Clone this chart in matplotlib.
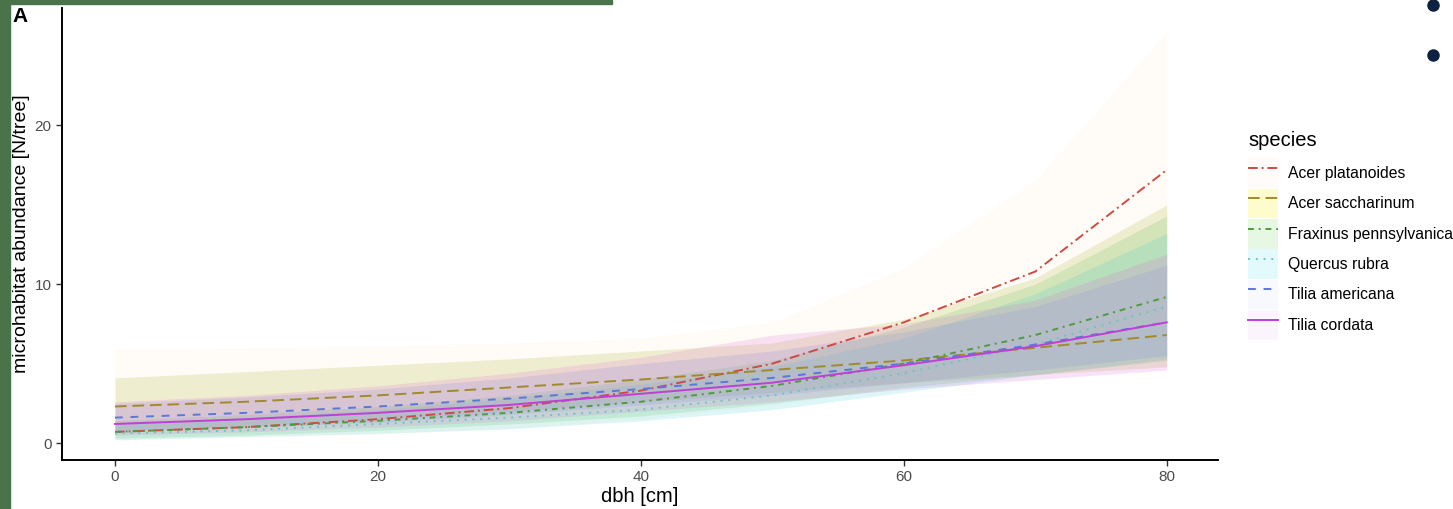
import matplotlib
matplotlib.use("Agg")
import matplotlib.pyplot as plt
from matplotlib.patches import Patch, Rectangle
from matplotlib.lines import Line2D

plt.rcParams['font.family'] = ['Liberation Sans', 'DejaVu Sans']

# dbh grid (cm)
dbh = [0, 10, 20, 30, 40, 50, 60, 70, 80]

species = ["Acer platanoides", "Acer saccharinum", "Fraxinus pennsylvanica",
           "Quercus rubra", "Tilia americana", "Tilia cordata"]

# predicted microhabitat abundance per species
fit_platanoides = [0.7, 1.0, 1.5, 2.2, 3.3, 5.0, 7.6, 10.8, 17.2]
fit_saccharinum = [2.3, 2.6, 3.0, 3.5, 4.0, 4.6, 5.2, 6.0, 6.8]
fit_fraxinus = [0.7, 1.0, 1.4, 1.9, 2.6, 3.6, 5.0, 6.8, 9.2]
fit_quercus = [0.6, 0.8, 1.2, 1.6, 2.1, 3.0, 4.4, 6.2, 8.6]
fit_americana = [1.6, 1.9, 2.3, 2.8, 3.4, 4.1, 5.0, 6.2, 7.6]
fit_cordata = [1.2, 1.5, 1.9, 2.4, 3.1, 3.8, 4.9, 6.1, 7.6]

# confidence bands
lo_platanoides = [0.2, 0.35, 0.55, 0.9, 1.5, 2.4, 3.6, 5.2, 7.5]
hi_platanoides = [5.9, 6.0, 6.1, 6.3, 6.6, 7.6, 11.0, 16.5, 25.9]
lo_saccharinum = [0.8, 1.1, 1.5, 2.0, 2.6, 3.2, 3.8, 4.3, 4.8]
hi_saccharinum = [4.1, 4.5, 4.9, 5.3, 5.8, 6.3, 7.8, 10.4, 15.0]
lo_fraxinus = [0.3, 0.5, 0.8, 1.2, 1.7, 2.5, 3.5, 4.3, 5.2]
hi_fraxinus = [1.4, 1.8, 2.3, 3.0, 4.0, 5.2, 7.3, 10.0, 14.3]
lo_quercus = [0.2, 0.4, 0.6, 0.9, 1.4, 2.1, 3.2, 4.3, 5.3]
hi_quercus = [1.2, 1.6, 2.1, 2.8, 3.7, 4.8, 6.6, 9.4, 13.2]
lo_americana = [0.8, 1.0, 1.3, 1.8, 2.4, 3.0, 3.8, 4.6, 5.5]
hi_americana = [2.5, 2.9, 3.4, 4.1, 5.0, 5.8, 7.0, 8.6, 11.2]
lo_cordata = [0.5, 0.7, 1.0, 1.4, 2.0, 2.6, 3.4, 4.0, 4.6]
hi_cordata = [2.6, 3.0, 3.6, 4.4, 5.4, 6.8, 7.5, 9.0, 11.9]

fits = [fit_platanoides, fit_saccharinum, fit_fraxinus, fit_quercus, fit_americana, fit_cordata]
lows = [lo_platanoides, lo_saccharinum, lo_fraxinus, lo_quercus, lo_americana, lo_cordata]
highs = [hi_platanoides, hi_saccharinum, hi_fraxinus, hi_quercus, hi_americana, hi_cordata]

line_colors = ["#cf4a44", "#a08a2c", "#4f9a3a", "#6cc4c4", "#5a78d8", "#c03fd6"]
fill_colors = ["#fff0d8", "#b8b848", "#50c050", "#30c8d0", "#6a8ce8", "#e070d8"]
fill_alpha = [0.2, 0.22, 0.18, 0.16, 0.18, 0.20]
key_colors = ["#fffbf8", "#fefccc", "#e6f8e4", "#e2fafb", "#f8f8ff", "#fcf4fc"]
dashes = [(0, (5, 2, 1, 2)), (0, (6, 3)), (0, (3, 2.5, 1, 2.5)), (0, (1, 3)), (0, (4, 4)), "solid"]

fig = plt.figure(figsize=(14.53, 5.09), dpi=100)
fig.patch.set_facecolor("white")

# slide background elements
fig.patches.append(Rectangle((0, 1 - 4 / 509), 612 / 1453, 4 / 509, transform=fig.transFigure,
                             color="#4b7349", zorder=0))
fig.patches.append(Rectangle((0, 0), 10 / 1453, 1, transform=fig.transFigure,
                             color="#4b7349", zorder=0))
for yb in (5, 55):
    fig.add_artist(Line2D([1433 / 1453], [1 - yb / 509], transform=fig.transFigure,
                          marker="o", markersize=8, color="#0d2240", linestyle="none"))

ax = fig.add_axes([62 / 1453, 1 - 460 / 509, (1218 - 62) / 1453, (460 - 8) / 509])

for i in range(len(species)):
    ax.fill_between(dbh, lows[i], highs[i], color=fill_colors[i], alpha=fill_alpha[i],
                    linewidth=0, zorder=1)
for i in range(len(species)):
    ax.plot(dbh, fits[i], color=line_colors[i], linestyle=dashes[i], linewidth=1.4, zorder=3)

ax.set_xlim(-4.03, 83.9)
ax.set_ylim(-1.07, 27.4)
ax.set_xticks([0, 20, 40, 60, 80])
ax.set_yticks([0, 10, 20])
for side in ("top", "right"):
    ax.spines[side].set_visible(False)
for side in ("left", "bottom"):
    ax.spines[side].set_linewidth(1.4)
    ax.spines[side].set_color("black")
ax.tick_params(axis="both", labelsize=11, labelcolor="#4d4d4d", color="#333333",
               length=4, width=1.0)
ax.set_xlabel("dbh [cm]", fontsize=14.5, labelpad=2)
ax.set_ylabel("microhabitat abundance [N/tree]", fontsize=14, labelpad=3)

fig.text(12 / 1453, 1 - 7 / 509, "A", fontsize=15, fontweight="bold", va="top", ha="left")

# legend: title placed separately, keys combine band fill and line style
fig.text(1248 / 1453, 1 - 140 / 509, "species", fontsize=14.5, va="center", ha="left")
handles = []
for i in range(len(species)):
    handles.append((Patch(facecolor=key_colors[i], edgecolor="none"),
                    Line2D([], [], color=line_colors[i], linestyle=dashes[i], linewidth=1.4)))
leg = fig.legend(handles, species, loc="upper left",
                 bbox_to_anchor=(1242 / 1453, 1 - 152 / 509),
                 fontsize=11.3, frameon=False,
                 handlelength=1.9, handleheight=2.55, labelspacing=0.03,
                 handletextpad=0.64, borderaxespad=0)

fig.savefig("out.png", dpi=100, facecolor="white")
